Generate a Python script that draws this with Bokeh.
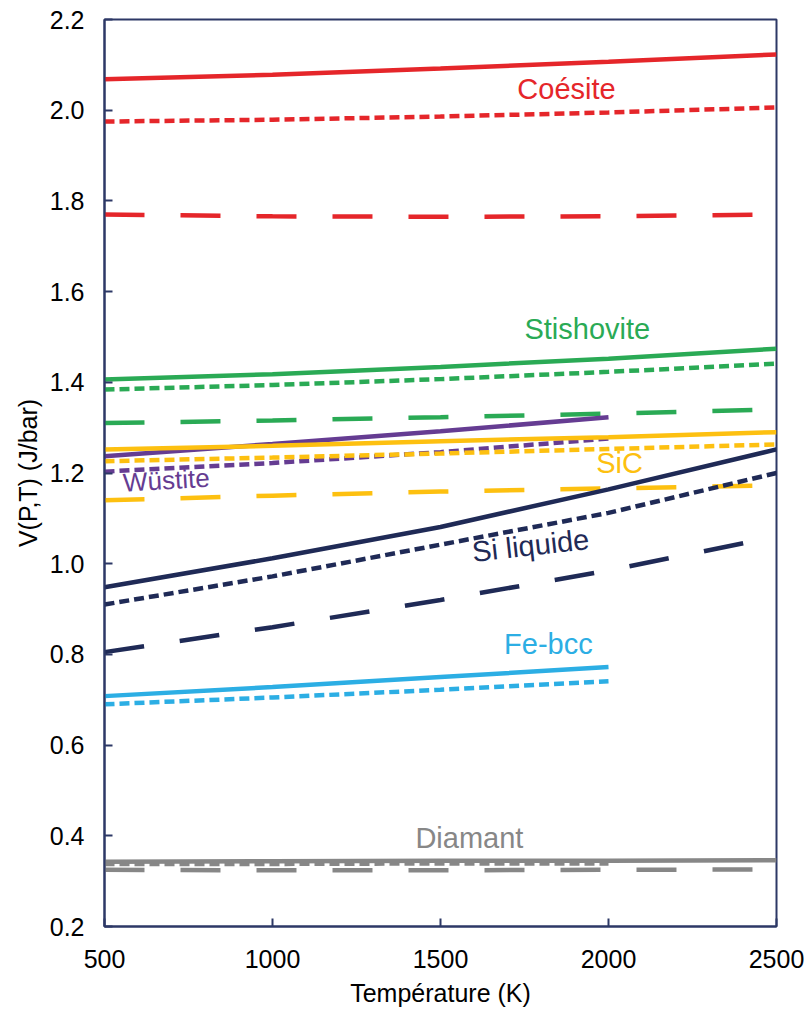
from bokeh.plotting import figure
from bokeh.models import Range1d, PrintfTickFormatter, FixedTicker
from bokeh.core.properties import value
from bokeh.embed import file_html
from bokeh.resources import INLINE

# ---- data ----
T5 = [500, 1000, 1500, 2000, 2500]
T4 = [500, 1000, 1500, 2000]

coesite_solid = [2.068, 2.078, 2.092, 2.107, 2.123]
coesite_dot = [1.975, 1.979, 1.986, 1.995, 2.006]
coesite_dash = [1.770, 1.766, 1.765, 1.766, 1.770]

stish_solid = [1.406, 1.418, 1.434, 1.452, 1.474]
stish_dot = [1.384, 1.394, 1.407, 1.423, 1.441]
stish_dash = [1.310, 1.316, 1.323, 1.331, 1.340]

wus_solid = [1.237, 1.264, 1.292, 1.323]
wus_dot = [1.203, 1.222, 1.246, 1.276]

sic_solid = [1.252, 1.260, 1.270, 1.279, 1.290]
sic_dot = [1.226, 1.234, 1.243, 1.253, 1.263]
sic_dash = [1.140, 1.150, 1.159, 1.166, 1.173]

si_solid = [0.948, 1.012, 1.081, 1.164, 1.252]
si_dot = [0.910, 0.972, 1.042, 1.112, 1.200]
si_dash = [0.805, 0.860, 0.920, 0.985, 1.060]

fe_solid = [0.708, 0.728, 0.750, 0.772]
fe_dot = [0.690, 0.705, 0.722, 0.741]

dia_solid = [0.343, 0.344, 0.345, 0.345, 0.346]
dia_dot = [0.338, 0.338, 0.339, 0.339]
dia_dash = [0.325, 0.324, 0.324, 0.325, 0.326]

x_ticks = [500, 1000, 1500, 2000, 2500]
y_ticks = [0.2, 0.4, 0.6, 0.8, 1.0, 1.2, 1.4, 1.6, 1.8, 2.0, 2.2]

labels = ["Coésite", "Stishovite", "SiC", "Wüstite", "Si liquide", "Fe-bcc", "Diamant"]
label_x = [1875, 1937, 2033, 684, 1768, 1821, 1586]
label_y = [2.046, 1.517, 1.221, 1.184, 1.040, 0.822, 0.396]
label_angle = [0, 0, 0, 0.06, 0.11, 0, 0]

RED = "#e5262a"
GREEN = "#2aaa55"
PURPLE = "#653c92"
YELLOW = "#fdc010"
NAVY = "#1f2a56"
BLUE = "#2caee4"
GRAY = "#878787"
FRAME = "#2d3866"
label_colors = [RED, GREEN, YELLOW, PURPLE, NAVY, BLUE, GRAY]
label_sizes = ["29px", "29px", "29px", "26px", "29px", "29px", "29px"]

FONT = "Liberation Sans"

p = figure(output_backend="svg", toolbar_location=None,
           frame_width=672, frame_height=907,
           min_border_left=104, min_border_top=19,
           min_border_right=28, min_border_bottom=84,
           x_range=Range1d(500, 2500), y_range=Range1d(0.2, 2.2))

p.xgrid.visible = False
p.ygrid.visible = False
p.outline_line_color = FRAME
p.outline_line_width = 2
p.background_fill_color = "white"
p.border_fill_color = "white"

DOT = "10 5"
DASH = "40 36"
LW = 4.5

def ln(x, y, color, dash):
    p.line(x, y, line_color=color, line_width=LW, line_dash=dash)

# Coesite
ln(T5, coesite_solid, RED, "solid")
ln(T5, coesite_dot, RED, DOT)
ln(T5, coesite_dash, RED, DASH)
# Stishovite
ln(T5, stish_solid, GREEN, "solid")
ln(T5, stish_dot, GREEN, DOT)
ln(T5, stish_dash, GREEN, DASH)
# Wustite
ln(T4, wus_solid, PURPLE, "solid")
ln(T4, wus_dot, PURPLE, DOT)
# SiC
ln(T5, sic_solid, YELLOW, "solid")
ln(T5, sic_dot, YELLOW, DOT)
ln(T5, sic_dash, YELLOW, DASH)
# Si liquide
ln(T5, si_solid, NAVY, "solid")
ln(T5, si_dot, NAVY, DOT)
ln(T5, si_dash, NAVY, DASH)
# Fe-bcc
ln(T4, fe_solid, BLUE, "solid")
ln(T4, fe_dot, BLUE, DOT)
# Diamant
ln(T4, dia_dot, GRAY, DOT)
ln(T5, dia_dash, GRAY, DASH)
ln(T5, dia_solid, GRAY, "solid")

for i in range(len(labels)):
    p.text(x=[label_x[i]], y=[label_y[i]], text=[labels[i]], angle=label_angle[i],
           text_color=label_colors[i], text_font=value(FONT),
           text_font_size=label_sizes[i], text_align="center", text_baseline="middle")

for ax in (p.xaxis[0], p.yaxis[0]):
    ax.axis_line_color = FRAME
    ax.axis_line_width = 2
    ax.major_tick_line_color = FRAME
    ax.major_tick_line_width = 2
    ax.major_tick_in = 8
    ax.major_tick_out = 0
    ax.minor_tick_line_color = None
    ax.major_label_text_font = FONT
    ax.major_label_text_font_size = "25px"
    ax.major_label_text_color = "black"
    ax.axis_label_text_font = FONT
    ax.axis_label_text_font_size = "25px"
    ax.axis_label_text_font_style = "normal"
    ax.axis_label_text_color = "black"

p.xaxis.ticker = FixedTicker(ticks=x_ticks)
p.yaxis.ticker = FixedTicker(ticks=y_ticks)
p.yaxis.formatter = PrintfTickFormatter(format="%.1f")
p.xaxis.axis_label = "Température (K)"
p.yaxis.axis_label = "V(P,T) (J/bar)"
p.xaxis.major_label_standoff = 23
p.yaxis.major_label_standoff = 20
p.xaxis.axis_label_standoff = 8
p.yaxis.axis_label_standoff = 5

open("out.html", "w").write(file_html(p, INLINE))
